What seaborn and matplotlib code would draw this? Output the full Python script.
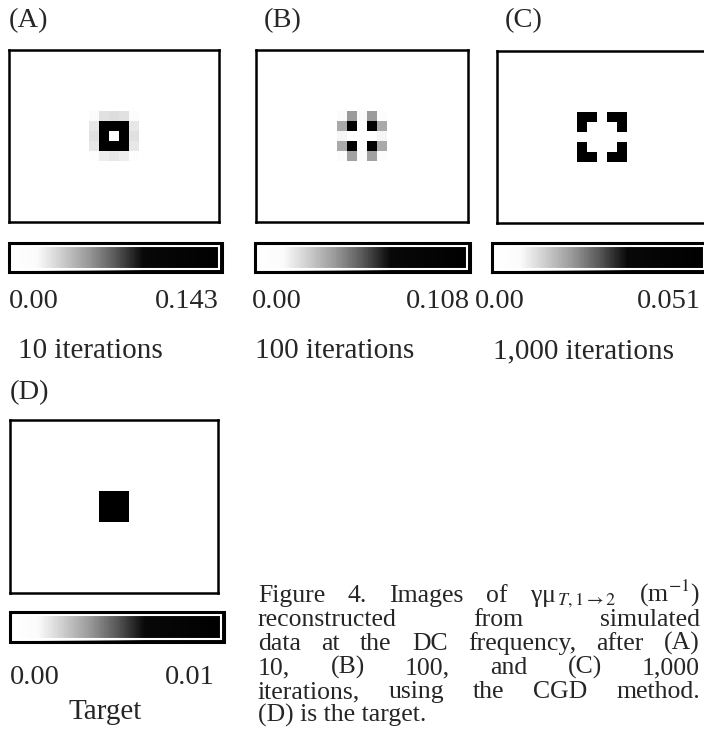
import numpy as np
import matplotlib
matplotlib.use("Agg")
import matplotlib.pyplot as plt
import seaborn as sns
from matplotlib.colors import LinearSegmentedColormap
from matplotlib.patches import Rectangle

sns.set_theme(style="white")
plt.rcParams["font.family"] = ["Liberation Serif", "DejaVu Serif"]
plt.rcParams["mathtext.fontset"] = "stix"

# image grid: 17 rows x 21 columns, everything outside the 5x5 centre patch is zero
n_rows, n_cols = 17, 21
patch_row, patch_col = 6, 8

patch_a = [
    [0.012, 0.028, 0.030, 0.028, 0.012],
    [0.026, 0.143, 0.143, 0.143, 0.026],
    [0.028, 0.143, 0.000, 0.143, 0.028],
    [0.026, 0.143, 0.143, 0.143, 0.026],
    [0.010, 0.024, 0.026, 0.024, 0.010],
]
patch_b = [
    [0.010, 0.040, 0.014, 0.040, 0.010],
    [0.036, 0.105, 0.000, 0.105, 0.036],
    [0.016, 0.000, 0.000, 0.000, 0.016],
    [0.036, 0.105, 0.000, 0.105, 0.036],
    [0.010, 0.038, 0.012, 0.038, 0.010],
]
patch_c = [
    [0.051, 0.051, 0.000, 0.051, 0.051],
    [0.051, 0.000, 0.000, 0.000, 0.051],
    [0.000, 0.000, 0.000, 0.000, 0.000],
    [0.051, 0.000, 0.000, 0.000, 0.051],
    [0.051, 0.051, 0.000, 0.051, 0.051],
]
patch_d = [
    [0.00, 0.00, 0.00, 0.00, 0.00],
    [0.00, 0.01, 0.01, 0.01, 0.00],
    [0.00, 0.01, 0.01, 0.01, 0.00],
    [0.00, 0.01, 0.01, 0.01, 0.00],
    [0.00, 0.00, 0.00, 0.00, 0.00],
]

panel_labels = ["(A)", "(B)", "(C)", "(D)"]
scale_max = [0.143, 0.108, 0.051, 0.01]
min_labels = ["0.00", "0.00", "0.00", "0.00"]
max_labels = ["0.143", "0.108", "0.051", "0.01"]
iter_labels = ["10 iterations", "100 iterations", "1,000 iterations", "Target"]

caption = [
    ["Figure", "4.", "Images", "of", "γμ$_{\\,T,1\\rightarrow 2}$", "(m$^{-1}$)"],
    ["reconstructed", "from", "simulated"],
    ["data", "at", "the", "DC", "frequency,", "after", "(A)"],
    ["10,", "(B)", "100,", "and", "(C)", "1,000"],
    ["iterations,", "using", "the", "CGD", "method."],
    ["(D) is the target."],
]

# grey ramp: flat white, then dithered grey, black from ~60%
cmap = LinearSegmentedColormap.from_list("scan_grey", [
    (0.0, "#ffffff"), (0.13, "#fbfbfb"), (0.24, "#d0d0d0"), (0.37, "#9a9a9a"),
    (0.50, "#585858"), (0.63, "#080808"), (1.0, "#000000")])

W, H = 704, 730
fig = plt.figure(figsize=(W / 100, H / 100), dpi=100)


def box(l, t, r, b):
    return [l / W, 1 - b / H, (r - l) / W, (b - t) / H]


img_boxes = [(9, 50, 219, 222), (256, 50, 468, 222), (497, 51, 707, 223), (10, 420, 218, 593)]
bar_boxes = [(9, 243, 222, 272), (255, 243, 470, 272), (492, 243, 707, 272), (10, 612, 224, 642)]
label_xy = [(9, 21), (264, 21), (505, 21), (10, 393)]
min_xy = [(9, 301), (252, 301), (475, 301), (10, 677)]
max_xy = [(219, 301), (470, 301), (701, 301), (215, 677)]
iter_xy = [(18, 351), (255, 351), (493, 351), (105, 712)]

patches = [patch_a, patch_b, patch_c, patch_d]
fs = 20.5

for i in range(4):
    grid = np.zeros((n_rows, n_cols))
    grid[patch_row:patch_row + 5, patch_col:patch_col + 5] = patches[i]

    ax = fig.add_axes(box(*img_boxes[i]))
    cax = fig.add_axes(box(*bar_boxes[i]))
    sns.heatmap(grid, ax=ax, cmap=cmap, vmin=0, vmax=scale_max[i],
                xticklabels=False, yticklabels=False,
                cbar_ax=cax, cbar_kws={"orientation": "horizontal"})
    for s in ax.spines.values():
        s.set_visible(True)
        s.set_color("black")
        s.set_linewidth(1.8)

    cbar = ax.collections[0].colorbar
    cbar.set_ticks([])
    cbar.outline.set_linewidth(2.2)
    cbar.outline.set_edgecolor("black")
    cax.add_patch(Rectangle((0.012, 0.09), 0.976, 0.82, transform=cax.transAxes,
                            fill=False, ec="white", lw=1.5))

    fig.text(label_xy[i][0] / W, 1 - label_xy[i][1] / H, panel_labels[i],
             fontsize=fs, va="center", ha="left")
    fig.text(min_xy[i][0] / W, 1 - min_xy[i][1] / H, min_labels[i],
             fontsize=fs, va="center", ha="left")
    fig.text(max_xy[i][0] / W, 1 - max_xy[i][1] / H, max_labels[i],
             fontsize=fs, va="center", ha="right")
    fig.text(iter_xy[i][0] / W, 1 - iter_xy[i][1] / H, iter_labels[i],
             fontsize=fs + 0.5, va="center", ha="center" if i == 3 else "left")

# justified caption block on the lower right
x0, x1 = 258, 700
line_y = [602, 626, 650, 674, 698, 722]
renderer = fig.canvas.get_renderer()
for words, y in zip(caption, line_y):
    texts = [fig.text(x0 / W, 1 - y / H, w, fontsize=18.5, va="baseline", ha="left") for w in words]
    if len(texts) == 1:
        continue
    widths = [t.get_window_extent(renderer).width for t in texts]
    gap = (x1 - x0 - sum(widths)) / (len(texts) - 1)
    x = x0
    for t, w in zip(texts, widths):
        t.set_x(x / W)
        x += w + gap

fig.savefig("out.png", dpi=100)
